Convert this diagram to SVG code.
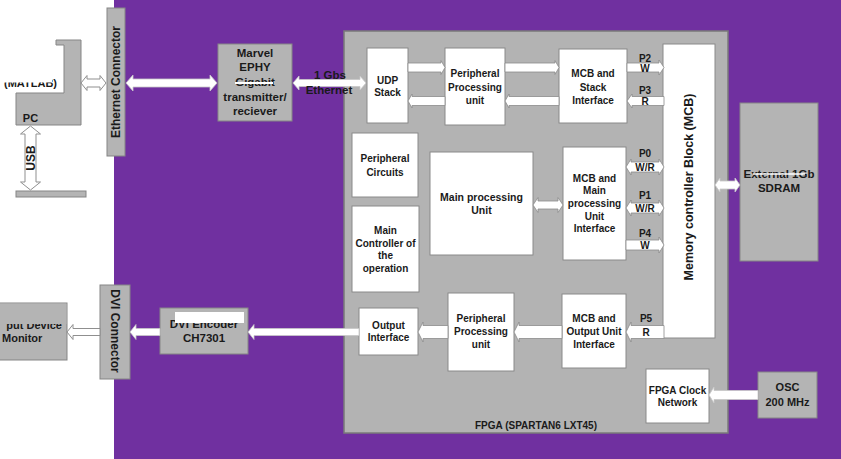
<svg xmlns="http://www.w3.org/2000/svg" width="841" height="459" viewBox="0 0 841 459">
<style>
text{font-family:"Liberation Sans",Arial,sans-serif;font-weight:bold;fill:#1a1a1a;text-anchor:middle}
.g{fill:#b4b4b4;stroke:#858585;stroke-width:1}
.w{fill:#ffffff;stroke:#8a8a8a;stroke-width:1}
.a{fill:#ffffff;stroke:#8c8c8c;stroke-width:0.8}
.ao{fill:#ffffff;stroke:#c8c8c8;stroke-width:0.8}
.ah{fill:#ffffff;stroke:#8f8f8f;stroke-width:1}
.s10{font-size:10px}
.s11{font-size:11px}
.s12{font-size:11.5px}
</style>
<rect x="0" y="0" width="841" height="459" fill="#ffffff"/>
<rect x="114" y="0" width="727" height="459" fill="#7030a0"/>

<g id="pc">
<path class="g" d="M56,40 H81 V125 H16 V93 H64 V45 H56 Z"/>
<text class="s11" x="57" y="87" style="text-anchor:end">(MATLAB)</text>
<rect x="0" y="60" width="52" height="22.5" fill="#ffffff"/>
<text class="s11" x="30.5" y="122">PC</text>
</g>
<g id="usb-base"><rect class="g" x="16" y="191" width="70" height="6"/></g>

<g id="ethernet-connector">
<rect class="g" x="107" y="8" width="18" height="148"/>
<text class="s12" style="font-size:12px" transform="translate(120.2,82) rotate(-90)">Ethernet Connector</text>
</g>

<g id="marvel">
<rect class="g" x="218" y="44" width="74" height="77"/>
<text class="s12" x="255" y="57">Marvel</text>
<text class="s12" x="255" y="70.5">EPHY</text>
<text class="s12" x="255" y="86">Gigabit</text>
<text class="s12" x="255" y="101">transmitter/</text>
<text class="s12" x="255" y="115">reciever</text>
<line x1="235" y1="83" x2="273" y2="83" stroke="#ffffff" stroke-width="2"/>
</g>

<g id="fpga">
<rect x="344" y="31" width="384" height="402" fill="#b3b3b3" stroke="#7a7a7a" stroke-width="1.5"/>
<text class="s10" x="536" y="429">FPGA (SPARTAN6 LXT45)</text>
</g>

<g id="udp-stack">
<rect class="w" x="367" y="48" width="41" height="75"/>
<text class="s10" x="387.5" y="84">UDP</text>
<text class="s10" x="387.5" y="96">Stack</text>
</g>

<g id="peripheral-top">
<rect class="w" x="445" y="48" width="60" height="77"/>
<text class="s10" x="475" y="77">Peripheral</text>
<text class="s10" x="475" y="91">Processing</text>
<text class="s10" x="475" y="104">unit</text>
</g>

<g id="mcb-stack">
<rect class="w" x="559" y="49" width="68" height="74"/>
<text class="s10" x="593" y="77">MCB and</text>
<text class="s10" x="593" y="91">Stack</text>
<text class="s10" x="593" y="104">Interface</text>
</g>

<g id="mcb">
<rect class="w" x="663" y="44" width="52" height="294"/>
<text style="font-size:12.5px" transform="translate(693.4,187) rotate(-90)">Memory controller Block (MCB)</text>
</g>

<g id="sdram">
<rect class="g" x="740" y="103" width="78" height="158"/>
<text class="s12" x="779" y="178">External 1Gb</text>
<text class="s12" x="779" y="192">SDRAM</text>
<line x1="753" y1="174" x2="805" y2="174" stroke="#ffffff" stroke-width="1.5"/>
</g>

<g id="peripheral-circuits">
<rect class="w" x="352" y="133" width="66" height="64"/>
<text class="s10" x="385" y="162">Peripheral</text>
<text class="s10" x="385" y="176">Circuits</text>
</g>

<g id="main-controller">
<rect class="w" x="352" y="206" width="67" height="86"/>
<text class="s10" x="385.5" y="234">Main</text>
<text class="s10" x="385.5" y="246.5">Controller of</text>
<text class="s10" x="385.5" y="259">the</text>
<text class="s10" x="385.5" y="271.5">operation</text>
</g>

<g id="main-processing">
<rect class="w" x="430" y="152" width="103" height="103"/>
<text class="s10" style="font-size:10.5px" x="481.5" y="201">Main processing</text>
<text class="s10" style="font-size:10.5px" x="481.5" y="214">Unit</text>
</g>

<g id="mcb-main">
<rect class="w" x="563" y="147" width="63" height="113"/>
<text class="s10" x="594.5" y="182">MCB and</text>
<text class="s10" x="594.5" y="194">Main</text>
<text class="s10" x="594.5" y="207">processing</text>
<text class="s10" x="594.5" y="220">Unit</text>
<text class="s10" x="594.5" y="232">Interface</text>
</g>

<g id="output-interface">
<rect class="w" x="359" y="308" width="59" height="47"/>
<text class="s10" x="388.5" y="329">Output</text>
<text class="s10" x="388.5" y="341">Interface</text>
</g>

<g id="peripheral-bottom">
<rect class="w" x="448" y="293" width="66" height="78"/>
<text class="s10" x="481" y="322">Peripheral</text>
<text class="s10" x="481" y="335">Processing</text>
<text class="s10" x="481" y="348">unit</text>
</g>

<g id="mcb-output">
<rect class="w" x="562" y="294" width="64" height="74"/>
<text class="s10" x="594" y="322">MCB and</text>
<text class="s10" x="594" y="335">Output Unit</text>
<text class="s10" x="594" y="348">Interface</text>
</g>

<g id="clock-network">
<rect class="w" x="646" y="369" width="63" height="54"/>
<text class="s10" x="677.5" y="394">FPGA Clock</text>
<text class="s10" x="677.5" y="406">Network</text>
</g>

<g id="osc">
<rect class="g" x="758" y="372" width="59" height="46"/>
<text class="s11" x="787.5" y="391">OSC</text>
<text class="s11" x="787.5" y="406">200 MHz</text>
</g>

<g id="dvi-encoder">
<rect class="g" x="160" y="308" width="88" height="46"/>
<text class="s12" x="204" y="328">DVI Encoder</text>
<rect x="175" y="312" width="69" height="11" fill="#ffffff"/>
<text class="s12" x="204" y="342">CH7301</text>
</g>

<g id="dvi-connector">
<rect class="g" x="100" y="285" width="30" height="94"/>
<text style="font-size:12px" transform="translate(110.8,331) rotate(90)">DVI Connector</text>
</g>

<g id="monitor">
<rect class="g" x="-2" y="303" width="69" height="57"/>
<text class="s11" x="62" y="329" style="text-anchor:end">put Device</text>
<rect x="0" y="303.5" width="66.5" height="20.5" fill="#b4b4b4"/>
<text class="s11" x="2" y="342" style="text-anchor:start">Monitor</text>
</g>

<g id="connectors">
<polygon class="ah" points="81,83 87,75.5 87,79 100,79 100,75.5 106,83 100,90.5 100,87 87,87 87,90.5"/>
<polygon class="ah" points="30.5,126 40.5,134 36,134 36,182 40.5,182 30.5,190 20.5,182 25,182 25,134 20.5,134"/>
<text style="font-size:12px" transform="translate(34.7,158) rotate(-90)">USB</text>
<polygon class="ao" points="126,83 133,75 133,79 210,79 210,75 217,83 210,91 210,87 133,87 133,91"/>
<polygon class="ao" points="293,83 299,76 299,79.5 360,79.5 360,76 366,83 360,90 360,86.5 299,86.5 299,90"/>
<text class="s12" x="330" y="79">1 Gbs</text>
<text class="s12" x="329" y="94">Ethernet</text>
<polygon class="a" points="408,63 441,63 441,60.5 445,67.5 441,74.5 441,72 408,72"/>
<polygon class="a" points="445,96.5 412,96.5 412,94 408,101 412,108 412,105.5 445,105.5"/>
<polygon class="a" points="505,63 555,63 555,60.5 559,67.5 555,74.5 555,72 505,72"/>
<polygon class="a" points="559,96.5 509,96.5 509,94 505,101 509,108 509,105.5 559,105.5"/>
<polygon class="a" points="627,63 659,63 659,60 664,67.5 659,75 659,72 627,72"/>
<text class="s10" x="645" y="62">P2</text>
<text class="s10" x="645" y="71.5">W</text>
<polygon class="a" points="664,96.5 632,96.5 632,94 627,101 632,108 632,105.5 664,105.5"/>
<text class="s10" x="645" y="94">P3</text>
<text class="s10" x="645" y="105">R</text>
<polygon class="a" points="626,167 631,159 631,162 659,162 659,159 664,167 659,175 659,172 631,172 631,175"/>
<text class="s10" x="645" y="157">P0</text>
<text class="s10" x="645" y="171">W/R</text>
<polygon class="a" points="626,208 631,200 631,203 659,203 659,200 664,208 659,216 659,213 631,213 631,216"/>
<text class="s10" x="645" y="199">P1</text>
<text class="s10" x="645" y="212">W/R</text>
<polygon class="a" points="626,240 659,240 659,237 664,245 659,253 659,250 626,250"/>
<text class="s10" x="645" y="237">P4</text>
<text class="s10" x="645" y="249">W</text>
<polygon class="a" points="533,205 538,197.5 538,201 558,201 558,197.5 563,205 558,212.5 558,209 538,209 538,212.5"/>
<polygon class="ao" points="715,185 720,178 720,181 735,181 735,178 740,185 735,192 735,189 720,189 720,192"/>
<polygon class="a" points="664,325.5 631,325.5 631,322 626,332 631,342 631,338.5 664,338.5"/>
<text class="s10" x="646" y="322">P5</text>
<text class="s10" x="646" y="336">R</text>
<polygon class="a" points="562,325.5 519,325.5 519,322 514,332 519,342 519,338.5 562,338.5"/>
<polygon class="a" points="448,325.5 423,325.5 423,322 418,332 423,342 423,338.5 448,338.5"/>
<polygon class="ao" points="359,328.5 254,328.5 254,324.5 248,332 254,339.5 254,335.5 359,335.5"/>
<polygon class="ao" points="160,328.5 136,328.5 136,324.5 130,332 136,339.5 136,335.5 160,335.5"/>
<polygon class="ah" points="100,328.5 73,328.5 73,324.5 67,332 73,339.5 73,335.5 100,335.5"/>
<polygon class="ao" points="758,390.5 714,390.5 714,387 709,395 714,403 714,399.5 758,399.5"/>
</g>
</svg>
